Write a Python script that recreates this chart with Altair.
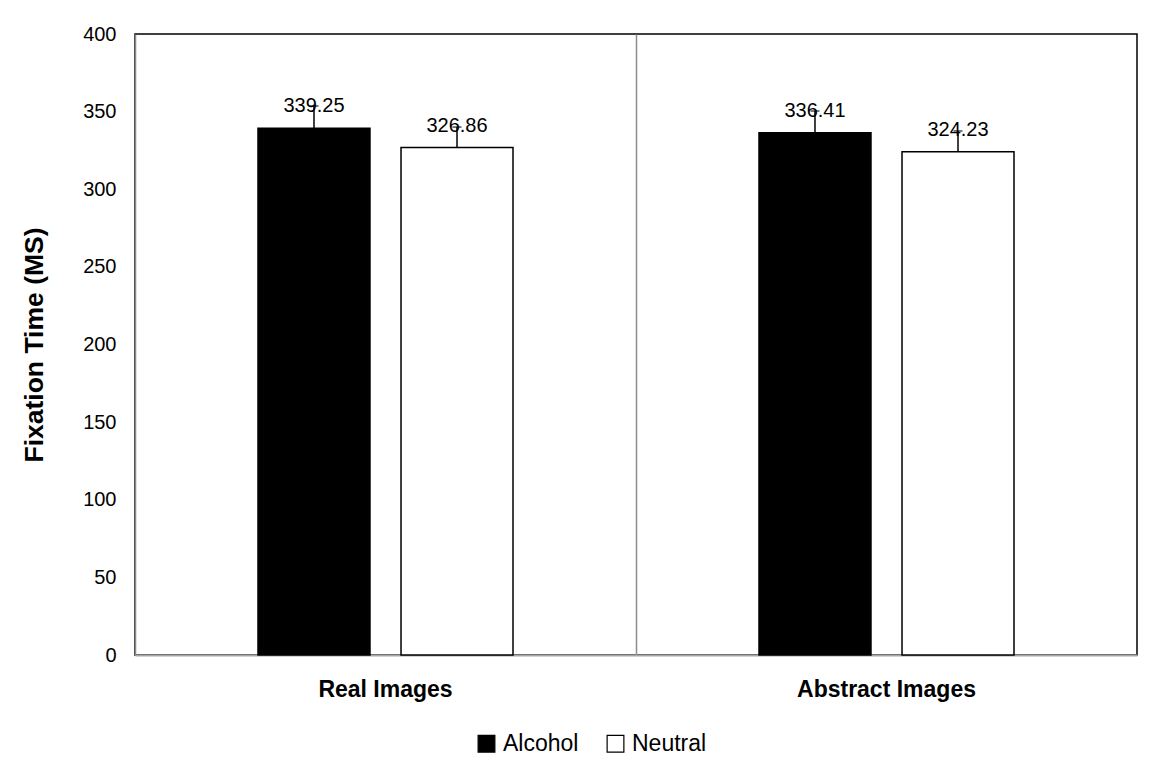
import altair as alt
import pandas as pd

categories = ["Real Images", "Abstract Images"]
series = ["Alcohol", "Neutral"]
alcohol_means = [339.25, 336.41]
neutral_means = [326.86, 324.23]
alcohol_err = [14.4, 14.0]
neutral_err = [13.2, 13.3]

rows = []
for i, c in enumerate(categories):
    rows.append({"category": c, "series": "Alcohol", "mean": alcohol_means[i], "err": alcohol_err[i]})
    rows.append({"category": c, "series": "Neutral", "mean": neutral_means[i], "err": neutral_err[i]})
df = pd.DataFrame(rows)

FONT = "Liberation Sans"

base = alt.Chart(df).transform_calculate(upper="datum.mean + datum.err")

x = alt.X(
    "category:N", sort=categories, title=None,
    scale=alt.Scale(paddingInner=0, paddingOuter=0),
    axis=alt.Axis(
        labelFont=FONT, labelFontWeight="bold", labelFontSize=23, labelColor="black",
        labelAngle=0, labelPadding=23, ticks=False,
        domainColor="#a6a6a6", domainWidth=2,
        grid=True, gridColor="#8c8c8c", gridWidth=1.5, bandPosition=0,
    ),
)
xo = alt.XOffset("series:N", sort=series, scale=alt.Scale(paddingInner=0.217, paddingOuter=0.86))
y = alt.Y(
    "mean:Q", title="Fixation Time (MS)",
    scale=alt.Scale(domain=[0, 400], nice=False),
    axis=alt.Axis(
        values=[0, 50, 100, 150, 200, 250, 300, 350, 400],
        labelFont=FONT, labelFontSize=20, labelColor="black", labelPadding=19,
        ticks=False, domain=False, grid=False,
        titleFont=FONT, titleFontSize=26.5, titleFontWeight="bold", titleColor="black",
        titlePadding=34,
    ),
)

bars = base.mark_bar(stroke="black", strokeWidth=1.5).encode(
    x=x, xOffset=xo, y=y,
    color=alt.Color(
        "series:N", sort=series,
        scale=alt.Scale(domain=series, range=["black", "white"]),
        legend=alt.Legend(
            title=None, orient="none", direction="horizontal",
            legendX=340, legendY=698,
            symbolType="square", symbolSize=280, symbolStrokeColor="black",
            symbolStrokeWidth=1.2, symbolOpacity=1,
            labelFont=FONT, labelFontSize=23, labelColor="black",
            columnPadding=25, labelOffset=5,
        ),
    ),
)

err = base.mark_rule(color="black", strokeWidth=1.5).encode(
    x=x, xOffset=xo, y="mean:Q", y2="upper:Q",
)
caps = base.mark_tick(color="black", thickness=1.5, size=9).encode(
    x=x, xOffset=xo, y="upper:Q",
)
labels = base.mark_text(font=FONT, fontSize=20, color="black", baseline="alphabetic", dy=-16).encode(
    x=x, xOffset=xo, y="mean:Q", text=alt.Text("mean:Q", format=".2f"),
)

chart = alt.layer(bars, err, caps, labels).properties(
    width=1002, height=621,
    background="white",
    autosize=alt.AutoSizeParams(type="none"),
    padding={"left": 127, "top": 26, "right": 20, "bottom": 115},
).configure_view(stroke="black", strokeWidth=1.5)

chart.save("out.html", embed_options={"renderer": "svg", "actions": False})
